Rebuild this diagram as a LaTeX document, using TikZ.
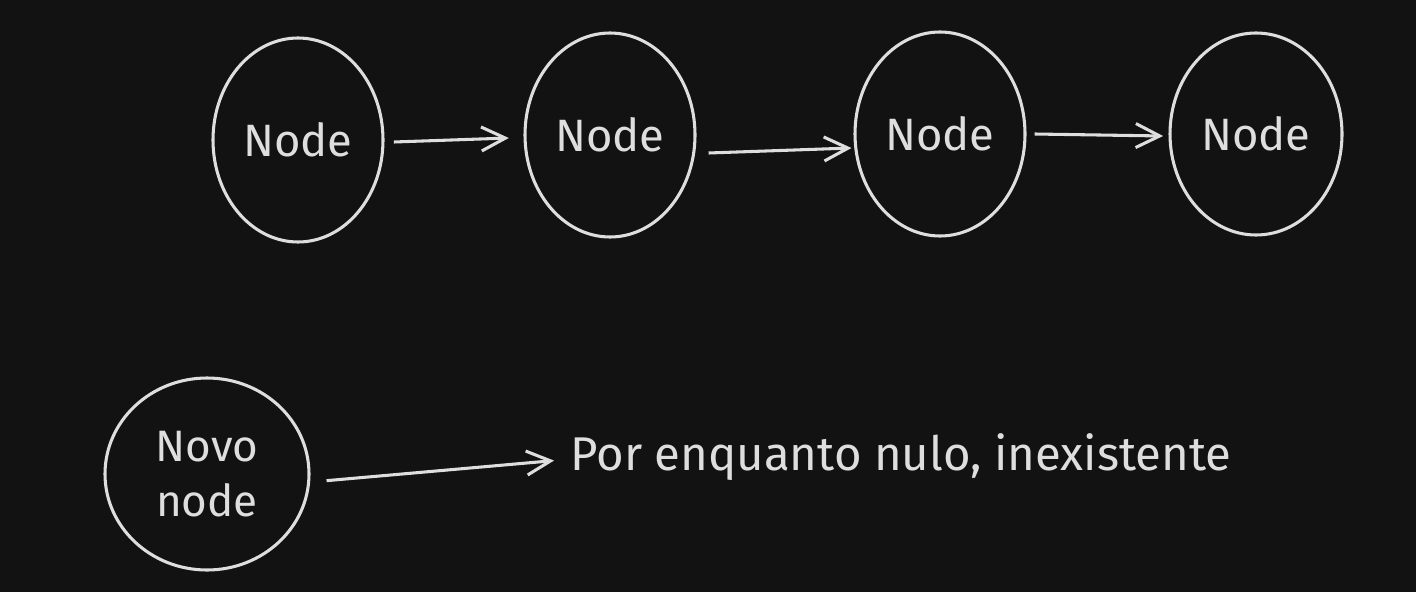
\documentclass[tikz,border=0pt]{standalone}
\usepackage{fontspec}
\setmainfont{Fira Sans}
\usetikzlibrary{shapes.geometric,arrows.meta}
\definecolor{bg}{HTML}{121212}
\definecolor{ink}{HTML}{DEDEDE}
\begin{document}
\begin{tikzpicture}[x=0.75pt,y=-0.75pt,
  ring/.style={draw=ink,line width=2.3pt,ellipse,inner sep=0pt,
    minimum width=127.5pt,minimum height=153pt,text=ink,
    font=\fontsize{34}{40}\selectfont},
  link/.style={draw=ink,line width=2.3pt,
    -{Straight Barb[length=18pt,width=18pt,line width=2.3pt]}},
  label/.style={text=ink,font=\fontsize{35.5}{42}\selectfont,inner sep=0pt}]
\fill[bg] (0,0) rectangle (1416,592);
\useasboundingbox (0,0) rectangle (1416,592);
\node[ring] (n1) at (298,140) {Node};
\node[ring] (n2) at (610,135) {Node};
\node[ring] (n3) at (940,134) {Node};
\node[ring,minimum width=129pt,minimum height=151.5pt] (n4) at (1256,134) {Node};
\node[ring,minimum width=153pt,minimum height=144pt,align=center,
  font=\fontsize{33}{41}\selectfont] (nv) at (207,474) {Novo\\node};
\node[label,anchor=base west] (t) at (570,470) {Por enquanto nulo, inexistente};
\draw[link] ([xshift=7pt,yshift=-1.5pt]n1.east) -- ([xshift=-11pt,yshift=-2.25pt]n2.west);
\draw[link] ([xshift=9pt,yshift=-13.5pt]n2.east) -- ([xshift=-1.5pt,yshift=-10.5pt]n3.west);
\draw[link] ([xshift=6pt]n3.east) -- ([xshift=-4pt,yshift=-1.5pt]n4.west);
\draw[link] ([xshift=12pt,yshift=-5pt]nv.east) -- ([xshift=-12pt,yshift=-3pt]t.west);
\end{tikzpicture}
\end{document}
